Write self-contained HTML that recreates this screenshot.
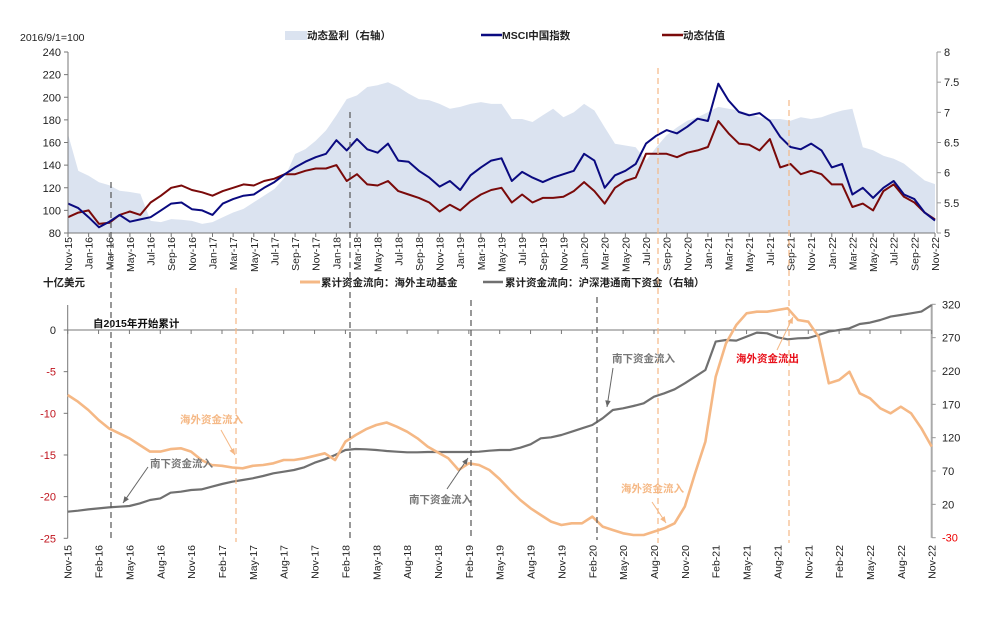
<!DOCTYPE html>
<html><head><meta charset="utf-8">
<style>
html,body{margin:0;padding:0;background:#fff;}
svg{display:block;font-family:"Liberation Sans","Noto Sans CJK SC",sans-serif;}
</style></head>
<body>
<svg id="chart" width="988" height="624" viewBox="0 0 988 624" xmlns="http://www.w3.org/2000/svg">
<rect x="0" y="0" width="988" height="624" fill="#fff"/>
<g id="topChart"></g>
<g id="botChart"></g>
<g id="overlay"></g>
</svg>
<script>
// ---- Top chart data (monthly, Nov-15 .. Nov-22) ----
const topMonths = 84;
const msciIndex = [106,102,94,85,90,96,90,92,94,100,106,107,101,100,96,106,110,113,114,120,125,132,138,143,147,150,162,153,163,154,151,159,144,143,135,129,121,126,118,131,138,144,146,126,134,129,125,129,132,135,150,144,120,131,135,141,159,166,171,168,174,181,179,212,197,187,184,186,179,165,156,154,159,153,138,141,114,120,111,120,126,114,110,98,91];
const dynValuation = [94,98,100,88,89,96,99,96,107,113,120,122,118,116,113,117,120,123,122,126,128,132,132,135,137,137,140,126,132,123,122,126,117,114,111,107,99,105,100,108,114,118,120,107,114,107,111,111,112,117,125,117,106,120,126,129,150,150,150,147,151,153,156,179,168,159,158,153,163,138,141,132,135,132,123,123,103,106,100,117,123,112,107,98,92];
const dynEarnings = [6.64,6.03,5.95,5.84,5.79,5.70,5.68,5.65,5.20,5.18,5.23,5.22,5.20,5.15,5.18,5.26,5.34,5.40,5.51,5.62,5.73,5.92,6.31,6.39,6.53,6.70,6.95,7.22,7.28,7.42,7.45,7.50,7.42,7.31,7.22,7.20,7.14,7.06,7.09,7.14,7.17,7.14,7.14,6.89,6.89,6.84,6.95,7.06,6.92,7.00,7.14,7.03,6.75,6.48,6.45,6.42,6.20,6.42,6.62,6.75,6.86,6.92,7.00,7.09,7.06,7.03,6.98,6.92,6.89,6.89,6.86,6.92,6.89,6.92,6.98,7.03,7.06,6.42,6.37,6.28,6.23,6.15,6.01,5.87,5.81];
const topLeftTicks = [80,100,120,140,160,180,200,220,240];
const topRightTicks = ["5","5.5","6","6.5","7","7.5","8"];
const topRightTickVals = [5,5.5,6,6.5,7,7.5,8];
// ---- Bottom chart data ----
const overseasFlow = [-7.8,-8.6,-9.6,-10.8,-11.8,-12.4,-13,-13.8,-14.6,-14.6,-14.3,-14.2,-14.6,-15.6,-16.2,-16.3,-16.5,-16.6,-16.3,-16.2,-16,-15.6,-15.6,-15.4,-15.1,-14.8,-15.6,-13.4,-12.6,-11.9,-11.4,-11.1,-11.6,-12.2,-13,-14,-14.7,-15.4,-16.8,-16,-16.2,-16.8,-17.9,-19.2,-20.4,-21.4,-22.2,-23,-23.4,-23.2,-23.2,-22.4,-23.6,-24,-24.4,-24.6,-24.6,-24.2,-23.8,-23.2,-21.2,-17.2,-13.4,-5.6,-1.6,0.6,2,2.2,2.2,2.4,2.6,1.2,1.0,-0.8,-6.4,-6,-5,-7.6,-8.2,-9.4,-10,-9.2,-10,-11.8,-14];
const southbound = [9,10.5,12.5,14,15.5,16.5,17.5,21.5,26.5,29,37.5,39,41.5,42.5,46.5,50.5,54,56.5,59,62.5,66.5,69,71.5,75.5,82.5,87.5,94,101.5,103,102.5,101.5,100,99,98,98,98.5,98.5,98.5,98.5,98.5,99,100.5,101.5,101.5,105,110,119,120.5,124,129,134,139,149,161.5,164,167.5,171.5,181.5,186.5,192.5,201.5,211.5,221.5,264,266.5,265.5,271.5,277.5,276.5,270.5,267.5,269,269.5,274,279,281.5,284,290.5,292.5,296.5,301.5,304,306.5,309,319];
const botLeftTicks = [0,-5,-10,-15,-20,-25];
const botRightTicks = [320,270,220,170,120,70,20,-30];
const monthNames = ["Jan","Feb","Mar","Apr","May","Jun","Jul","Aug","Sep","Oct","Nov","Dec"];

const NS="http://www.w3.org/2000/svg";
function mk(tag, attrs, parent){const e=document.createElementNS(NS,tag);for(const k in attrs)e.setAttribute(k,attrs[k]);parent.appendChild(e);return e;}
function monthLabel(i){const m=(10+i)%12;const y=15+Math.floor((10+i)/12);return monthNames[m]+"-"+y;}
function txt(x,y,s,size,fill,parent,name,extra){const t=mk('text',Object.assign({x:x,y:y,'font-size':size,fill:fill},extra||{}),parent);t.textContent=s;
  
  
  return t;}
function line(arr,fx,fy,color,w,parent,name){
  let d="";arr.forEach((v,i)=>{d+=(i?" L":"M")+fx(i).toFixed(1)+","+fy(v).toFixed(1);});
  const p=mk('path',{d:d,fill:'none',stroke:color,'stroke-width':w,'stroke-linejoin':'round'},parent);
  
  
  return p;
}

// ---- TOP axes ----
const T={x0:68,x1:935,y0:233,y1:52};
const tx=i=>T.x0+(T.x1-T.x0)*i/topMonths;
const tyL=v=>T.y0-(v-80)/(240-80)*(T.y0-T.y1);
const tyR=v=>T.y0-(v-5)/(8-5)*(T.y0-T.y1);
const topG=document.getElementById('topChart');

let ad="M"+tx(0)+","+T.y0;
dynEarnings.forEach((v,i)=>{ad+=" L"+tx(i).toFixed(1)+","+tyR(v).toFixed(1);});
ad+=" L"+tx(topMonths)+","+T.y0+" Z";
const area=mk('path',{d:ad,fill:'#dbe3f0',stroke:'none'},topG);



line(dynValuation,tx,tyL,'#7a0a0a',2,topG,'valuation-line');
line(msciIndex,tx,tyL,'#0a0a80',2,topG,'msci-line');

mk('line',{x1:T.x0,y1:T.y1,x2:T.x0,y2:T.y0,stroke:'#777','stroke-width':1},topG);
mk('line',{x1:T.x0,y1:T.y0,x2:T.x1,y2:T.y0,stroke:'#777','stroke-width':1},topG);
mk('line',{x1:937,y1:T.y1,x2:937,y2:T.y0,stroke:'#999','stroke-width':1},topG);
topLeftTicks.forEach(v=>{
  const y=tyL(v);
  mk('line',{x1:T.x0-4,y1:y,x2:T.x0,y2:y,stroke:'#777'},topG);
  const t=mk('text',{x:T.x0-7,y:y+4,'text-anchor':'end','font-size':11,fill:'#222'},topG);t.textContent=v;
  
  
});
topRightTickVals.forEach((v,k)=>{
  const y=tyR(v);
  mk('line',{x1:937,y1:y,x2:941,y2:y,stroke:'#999'},topG);
  const t=mk('text',{x:944,y:y+4,'font-size':11,fill:'#222'},topG);t.textContent=topRightTicks[k];
  
  
});
for(let i=0;i<=topMonths;i+=2){
  const x=tx(i);
  mk('line',{x1:x,y1:T.y0,x2:x,y2:T.y0+4,stroke:'#777'},topG);
  const t=mk('text',{x:x+4,y:237,'text-anchor':'end','font-size':10.5,fill:'#222',transform:`rotate(-90 ${x+4} 237)`},topG);
  t.textContent=monthLabel(i);
  
  
}
txt(20,41,"2016/9/1=100",10.5,'#222',topG,'top-left-axis-unit');
mk('rect',{x:285,y:31,width:22,height:9,fill:'#dbe3f0'},topG);
txt(307,39,"动态盈利（右轴）",10.5,'#222',topG,'legend-earnings',{'font-weight':'bold'});
mk('line',{x1:481,y1:35,x2:502,y2:35,stroke:'#0a0a80','stroke-width':2.5},topG);
txt(502,39,"MSCI中国指数",10.5,'#222',topG,'legend-msci',{'font-weight':'bold'});
mk('line',{x1:662,y1:35,x2:683,y2:35,stroke:'#7a0a0a','stroke-width':2.5},topG);
txt(683,39,"动态估值",10.5,'#222',topG,'legend-valuation',{'font-weight':'bold'});

// ---- BOTTOM chart ----
const B={x0:67.7,x1:931.7,zeroY:330,yL0:538.3,yR320:304.3,yRm30:537.7};
const bx=i=>B.x0+(B.x1-B.x0)*i/84;
const byLf=v=>B.zeroY+(-v)/25*(B.yL0-B.zeroY);
const byR=v=>B.yRm30-(v+30)/350*(B.yRm30-B.yR320);
const botG=document.getElementById('botChart');

mk('line',{x1:B.x0,y1:305,x2:B.x0,y2:B.yL0,stroke:'#777'},botG);
mk('line',{x1:B.x0,y1:B.zeroY,x2:B.x1,y2:B.zeroY,stroke:'#777'},botG);
mk('line',{x1:B.x1,y1:B.yR320,x2:B.x1,y2:B.yRm30,stroke:'#aaa','stroke-width':2},botG);
botLeftTicks.forEach(v=>{
  const y=byLf(v);
  mk('line',{x1:B.x0-4,y1:y,x2:B.x0,y2:y,stroke:'#777'},botG);
  const t=mk('text',{x:56,y:y+4,'text-anchor':'end','font-size':11,fill:v<0?'#c0141e':'#222'},botG);t.textContent=v;
  
  
});
botRightTicks.forEach(v=>{
  const y=byR(v);
  mk('line',{x1:B.x1,y1:y,x2:B.x1+4,y2:y,stroke:'#999'},botG);
  const t=mk('text',{x:942,y:y+4,'font-size':11,fill:v<0?'#e00':'#222'},botG);t.textContent=v;
  
  
});
for(let i=0;i<=84;i+=3){
  const x=bx(i);
  mk('line',{x1:x,y1:B.zeroY,x2:x,y2:B.zeroY+4,stroke:'#777'},botG);
  const t=mk('text',{x:x+4,y:545,'text-anchor':'end','font-size':10.5,fill:'#222',transform:`rotate(-90 ${x+4} 545)`},botG);
  t.textContent=monthLabel(i);
  
  
}
line(southbound,bx,byR,'#707070',2.2,botG,'southbound-line');
line(overseasFlow,bx,byLf,'#f5b885',2.6,botG,'overseas-fund-line');

txt(43,286,"十亿美元",10.5,'#222',botG,'bottom-left-axis-unit',{'font-weight':'bold'});
mk('line',{x1:300,y1:282,x2:320,y2:282,stroke:'#f5b885','stroke-width':3},botG);
txt(321,286,"累计资金流向：海外主动基金",10.5,'#222',botG,'legend-overseas',{'font-weight':'bold'});
mk('line',{x1:483,y1:282,x2:503,y2:282,stroke:'#707070','stroke-width':2.5},botG);
txt(505,286,"累计资金流向：沪深港通南下资金（右轴）",10.5,'#222',botG,'legend-southbound',{'font-weight':'bold'});
txt(93,327,"自2015年开始累计",10.5,'#111',botG,'cumulative-note',{'font-weight':'bold'});

// ---- overlays ----
const overG=document.getElementById('overlay');
[[111,182,540,'#555'],[350,112,540,'#555'],[471,300,540,'#555'],[597,297,540,'#555'],[236,288,542,'#f5b885'],[658,68,543,'#f5b885'],[789,100,543,'#f5b885']].forEach(a=>{
  const l=mk('line',{x1:a[0],y1:a[1],x2:a[0],y2:a[2],stroke:a[3],'stroke-width':1.2,'stroke-dasharray':'6,4'},overG);
  
  
});
function arrow(x1,y1,x2,y2,c){
  mk('line',{x1:x1,y1:y1,x2:x2,y2:y2,stroke:c,'stroke-width':1},overG);
  const a=Math.atan2(y2-y1,x2-x1),L=7,w=0.4;
  mk('path',{d:`M${x2},${y2} L${x2-L*Math.cos(a-w)},${y2-L*Math.sin(a-w)} L${x2-L*Math.cos(a+w)},${y2-L*Math.sin(a+w)} Z`,fill:c},overG);
}
txt(180,423,"海外资金流入",10.5,'#f5b885',overG,'annotation-overseas-inflow-1',{'font-weight':'bold'});
arrow(221,430,235,455,'#f5b885');
txt(150,467,"南下资金流入",10.5,'#777',overG,'annotation-southbound-1',{'font-weight':'bold'});
arrow(148,467,123,503,'#666');
txt(409,503,"南下资金流入",10.5,'#777',overG,'annotation-southbound-2',{'font-weight':'bold'});
arrow(447,489,468,458,'#666');
txt(612,362,"南下资金流入",10.5,'#777',overG,'annotation-southbound-3',{'font-weight':'bold'});
arrow(613,368,607,407,'#666');
txt(621,492,"海外资金流入",10.5,'#f5b885',overG,'annotation-overseas-inflow-2',{'font-weight':'bold'});
arrow(652,502,666,523,'#f5b885');
txt(736,362,"海外资金流出",10.5,'#e8101a',overG,'annotation-overseas-outflow',{'font-weight':'bold'});
arrow(777,350,793,317,'#f5b885');
</script>
</body></html>
